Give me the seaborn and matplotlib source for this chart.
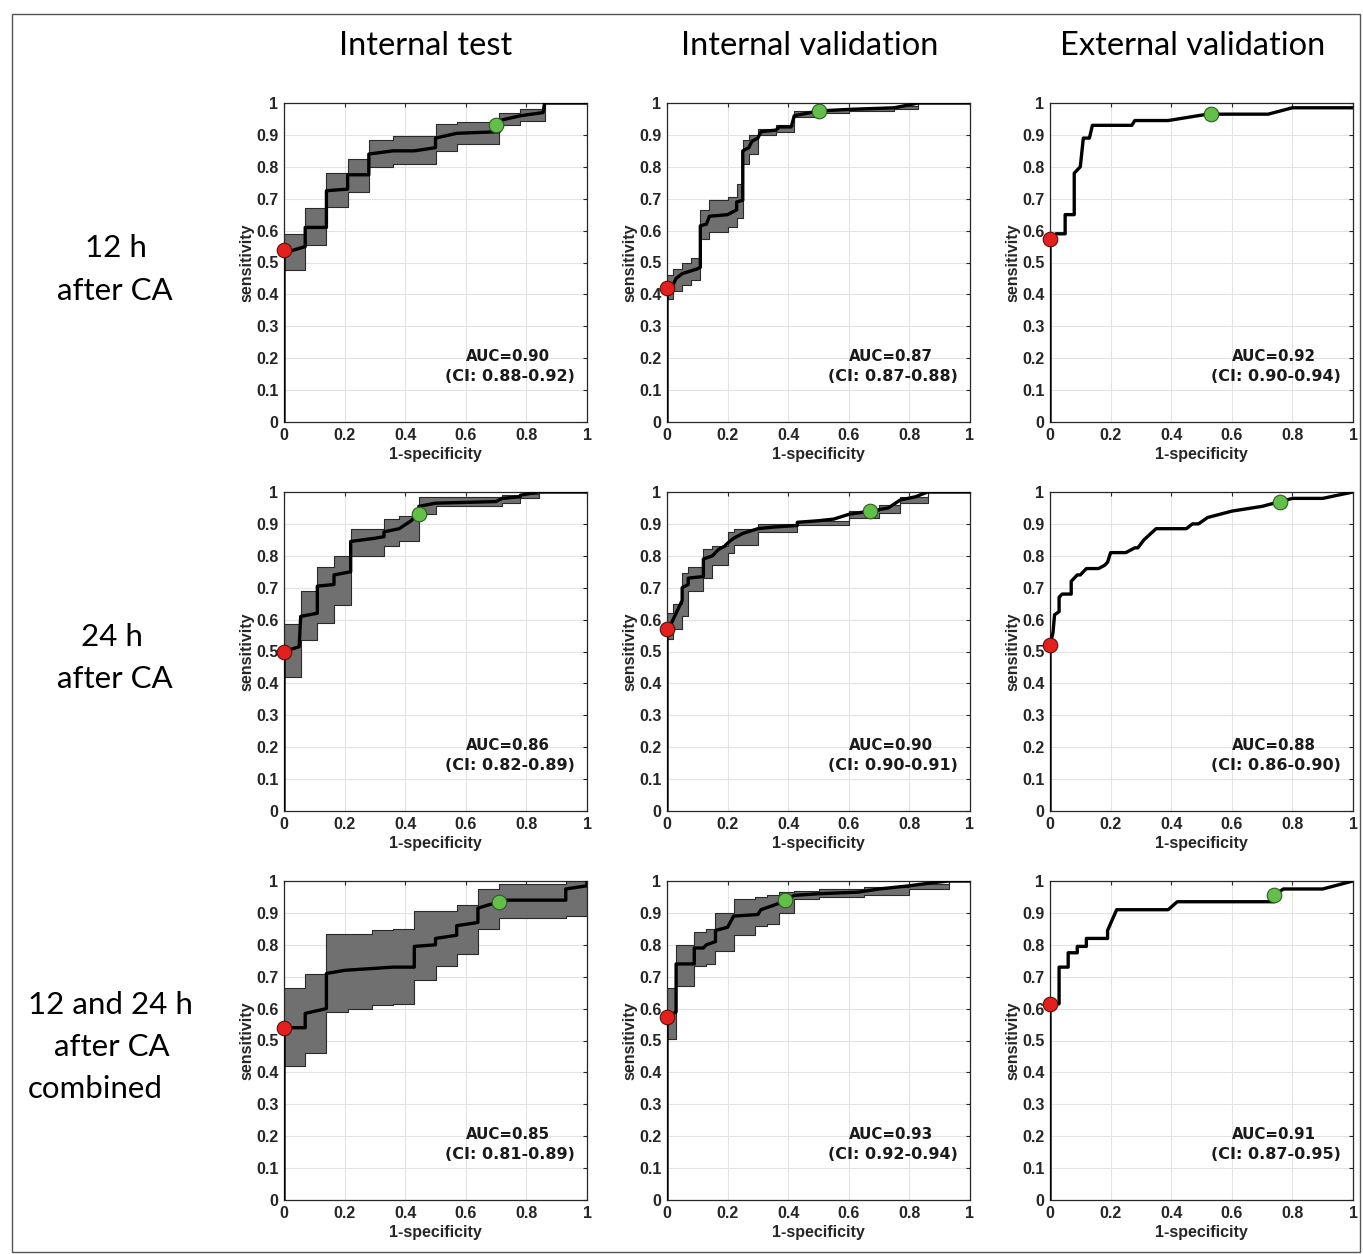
import matplotlib.pyplot as plt
import matplotlib.patches as mpatches
import pandas as pd
import seaborn as sns

sns.set_style('white')
plt.rcParams['font.family'] = ['Liberation Sans', 'DejaVu Sans']

col_titles = ['Internal test', 'Internal validation', 'External validation']
row_lines = [['12 h', 'after CA'], ['24 h', 'after CA'], ['12 and 24 h', 'after CA', 'combined']]

# ---- row 1: 12 h after CA ----
test12_x = [0, 0, 0.07, 0.07, 0.14, 0.14, 0.21, 0.21, 0.28, 0.28, 0.36, 0.43, 0.5, 0.5, 0.57, 0.71, 0.71, 0.78, 0.855, 0.86, 1]
test12_y = [0, 0.53, 0.55, 0.61, 0.61, 0.725, 0.73, 0.775, 0.775, 0.84, 0.85, 0.85, 0.86, 0.89, 0.905, 0.91, 0.945, 0.96, 0.97, 1.0, 1.0]
test12_bx = [0, 0.07, 0.14, 0.21, 0.28, 0.36, 0.5, 0.57, 0.71, 0.78, 0.86, 1]
test12_lo = [0.475, 0.555, 0.675, 0.72, 0.80, 0.81, 0.85, 0.87, 0.93, 0.945, 1.0, 1.0]
test12_hi = [0.59, 0.67, 0.78, 0.825, 0.885, 0.895, 0.935, 0.94, 0.97, 0.98, 1.0, 1.0]
test12_pts = [(0, 0.54), (0.70, 0.93)]

val12_x = [0, 0, 0.02, 0.03, 0.05, 0.10, 0.11, 0.11, 0.13, 0.14, 0.20, 0.23, 0.23, 0.25, 0.25, 0.27, 0.28, 0.30, 0.31, 0.36, 0.37, 0.41, 0.42, 0.5, 0.6, 0.75, 0.83, 1]
val12_y = [0, 0.41, 0.43, 0.45, 0.465, 0.48, 0.485, 0.615, 0.62, 0.645, 0.65, 0.665, 0.69, 0.695, 0.85, 0.86, 0.88, 0.89, 0.91, 0.915, 0.925, 0.925, 0.96, 0.975, 0.98, 0.985, 1.0, 1.0]
val12_bx = [0, 0.02, 0.05, 0.08, 0.11, 0.14, 0.20, 0.23, 0.25, 0.27, 0.30, 0.36, 0.42, 0.5, 0.6, 0.75, 0.83, 1]
val12_lo = [0.385, 0.41, 0.43, 0.445, 0.575, 0.595, 0.61, 0.64, 0.81, 0.84, 0.90, 0.91, 0.955, 0.97, 0.975, 0.98, 1.0, 1.0]
val12_hi = [0.46, 0.48, 0.50, 0.515, 0.665, 0.695, 0.705, 0.745, 0.885, 0.90, 0.92, 0.93, 0.975, 0.98, 0.985, 0.99, 1.0, 1.0]
val12_pts = [(0, 0.42), (0.50, 0.975)]

ext12_x = [0, 0, 0.02, 0.05, 0.05, 0.08, 0.08, 0.10, 0.11, 0.13, 0.14, 0.27, 0.28, 0.39, 0.52, 0.72, 0.80, 1.0]
ext12_y = [0, 0.575, 0.59, 0.59, 0.65, 0.65, 0.78, 0.80, 0.89, 0.89, 0.93, 0.93, 0.945, 0.945, 0.965, 0.965, 0.985, 0.985]
ext12_pts = [(0, 0.575), (0.53, 0.965)]

# ---- row 2: 24 h after CA ----
test24_x = [0, 0, 0.05, 0.055, 0.11, 0.11, 0.165, 0.165, 0.22, 0.22, 0.30, 0.33, 0.33, 0.38, 0.42, 0.445, 0.445, 0.5, 0.7, 0.72, 0.78, 0.78, 0.84, 1]
test24_y = [0, 0.50, 0.515, 0.61, 0.62, 0.705, 0.71, 0.74, 0.75, 0.845, 0.855, 0.86, 0.875, 0.885, 0.91, 0.935, 0.955, 0.965, 0.97, 0.98, 0.985, 0.99, 1.0, 1.0]
test24_bx = [0, 0.055, 0.11, 0.165, 0.22, 0.33, 0.38, 0.445, 0.5, 0.72, 0.78, 0.84, 1]
test24_lo = [0.42, 0.535, 0.59, 0.645, 0.80, 0.83, 0.845, 0.93, 0.955, 0.965, 0.98, 1.0, 1.0]
test24_hi = [0.585, 0.69, 0.765, 0.80, 0.885, 0.915, 0.925, 0.985, 0.985, 0.99, 0.995, 1.0, 1.0]
test24_pts = [(0, 0.50), (0.445, 0.93)]

val24_x = [0, 0, 0.01, 0.02, 0.03, 0.04, 0.05, 0.05, 0.07, 0.07, 0.12, 0.12, 0.15, 0.17, 0.19, 0.20, 0.22, 0.25, 0.30, 0.35, 0.43, 0.43, 0.5, 0.55, 0.6, 0.67, 0.73, 0.77, 0.82, 0.86, 1]
val24_y = [0, 0.55, 0.58, 0.60, 0.62, 0.64, 0.66, 0.70, 0.71, 0.73, 0.735, 0.79, 0.80, 0.82, 0.83, 0.84, 0.855, 0.87, 0.885, 0.89, 0.895, 0.905, 0.91, 0.915, 0.93, 0.94, 0.95, 0.975, 0.985, 1.0, 1.0]
val24_bx = [0, 0.02, 0.05, 0.07, 0.12, 0.15, 0.20, 0.22, 0.30, 0.43, 0.6, 0.7, 0.77, 0.86, 1]
val24_lo = [0.54, 0.57, 0.61, 0.69, 0.73, 0.77, 0.81, 0.835, 0.875, 0.895, 0.92, 0.935, 0.965, 1.0, 1.0]
val24_hi = [0.62, 0.65, 0.745, 0.765, 0.82, 0.83, 0.875, 0.885, 0.90, 0.91, 0.94, 0.96, 0.985, 1.0, 1.0]
val24_pts = [(0, 0.57), (0.67, 0.94)]

ext24_x = [0, 0, 0.01, 0.015, 0.03, 0.03, 0.04, 0.07, 0.07, 0.09, 0.10, 0.12, 0.16, 0.18, 0.19, 0.20, 0.25, 0.28, 0.29, 0.31, 0.35, 0.45, 0.47, 0.49, 0.52, 0.6, 0.7, 0.76, 0.8, 0.9, 1]
ext24_y = [0, 0.52, 0.56, 0.615, 0.625, 0.67, 0.68, 0.68, 0.72, 0.74, 0.74, 0.76, 0.76, 0.77, 0.78, 0.81, 0.81, 0.825, 0.825, 0.85, 0.885, 0.885, 0.90, 0.90, 0.92, 0.94, 0.955, 0.97, 0.98, 0.98, 1.0]
ext24_pts = [(0, 0.52), (0.76, 0.97)]

# ---- row 3: 12 and 24 h combined ----
testc_x = [0, 0, 0.07, 0.07, 0.14, 0.14, 0.20, 0.28, 0.36, 0.43, 0.43, 0.5, 0.5, 0.57, 0.57, 0.64, 0.64, 0.71, 0.72, 0.93, 0.93, 1, 1]
testc_y = [0, 0.54, 0.54, 0.585, 0.60, 0.71, 0.72, 0.725, 0.73, 0.73, 0.795, 0.80, 0.82, 0.83, 0.86, 0.87, 0.915, 0.935, 0.94, 0.94, 0.975, 0.985, 1.0]
testc_bx = [0, 0.07, 0.14, 0.21, 0.29, 0.36, 0.43, 0.5, 0.57, 0.64, 0.71, 0.93, 1]
testc_lo = [0.42, 0.46, 0.59, 0.60, 0.61, 0.615, 0.69, 0.735, 0.77, 0.85, 0.885, 0.89, 0.945]
testc_hi = [0.665, 0.71, 0.835, 0.835, 0.845, 0.85, 0.905, 0.905, 0.925, 0.975, 0.99, 1.0, 1.0]
testc_pts = [(0, 0.54), (0.71, 0.935)]

valc_x = [0, 0, 0.03, 0.03, 0.09, 0.09, 0.12, 0.13, 0.16, 0.16, 0.20, 0.22, 0.30, 0.31, 0.34, 0.37, 0.39, 0.42, 0.5, 0.63, 0.7, 0.8, 0.88, 0.93, 1]
valc_y = [0, 0.57, 0.59, 0.74, 0.74, 0.79, 0.79, 0.80, 0.81, 0.845, 0.855, 0.89, 0.895, 0.91, 0.92, 0.93, 0.94, 0.955, 0.96, 0.965, 0.975, 0.985, 0.995, 1.0, 1.0]
valc_bx = [0, 0.03, 0.09, 0.13, 0.16, 0.22, 0.29, 0.33, 0.37, 0.42, 0.5, 0.65, 0.8, 0.93, 1]
valc_lo = [0.505, 0.67, 0.735, 0.74, 0.78, 0.83, 0.86, 0.865, 0.90, 0.945, 0.95, 0.955, 0.975, 1.0, 1.0]
valc_hi = [0.665, 0.80, 0.84, 0.85, 0.90, 0.945, 0.95, 0.955, 0.965, 0.97, 0.975, 0.98, 0.99, 1.0, 1.0]
valc_pts = [(0, 0.575), (0.39, 0.94)]

extc_x = [0, 0, 0.03, 0.03, 0.06, 0.06, 0.09, 0.09, 0.12, 0.12, 0.19, 0.19, 0.22, 0.39, 0.42, 0.74, 0.74, 0.77, 0.9, 1]
extc_y = [0, 0.61, 0.615, 0.73, 0.73, 0.775, 0.775, 0.795, 0.795, 0.82, 0.82, 0.845, 0.91, 0.91, 0.935, 0.935, 0.955, 0.975, 0.975, 1.0]
extc_pts = [(0, 0.615), (0.74, 0.955)]

auc_values = [['0.90', '0.87', '0.92'], ['0.86', '0.90', '0.88'], ['0.85', '0.93', '0.91']]
ci_values = [['0.88-0.92', '0.87-0.88', '0.90-0.94'],
             ['0.82-0.89', '0.90-0.91', '0.86-0.90'],
             ['0.81-0.89', '0.92-0.94', '0.87-0.95']]

panels = [
    [(test12_x, test12_y, (test12_bx, test12_lo, test12_hi), test12_pts),
     (val12_x, val12_y, (val12_bx, val12_lo, val12_hi), val12_pts),
     (ext12_x, ext12_y, None, ext12_pts)],
    [(test24_x, test24_y, (test24_bx, test24_lo, test24_hi), test24_pts),
     (val24_x, val24_y, (val24_bx, val24_lo, val24_hi), val24_pts),
     (ext24_x, ext24_y, None, ext24_pts)],
    [(testc_x, testc_y, (testc_bx, testc_lo, testc_hi), testc_pts),
     (valc_x, valc_y, (valc_bx, valc_lo, valc_hi), valc_pts),
     (extc_x, extc_y, None, extc_pts)],
]

fig = plt.figure(figsize=(13.63, 12.54), dpi=100)
W, H = 1363, 1254

# outer frame
fig.patches.append(mpatches.Rectangle((12 / W, 2 / H), 1348 / W, 1238 / H, transform=fig.transFigure,
                                      fill=False, edgecolor='#555555', lw=1.0))

lefts = [284, 667, 1050]
bottoms = [422, 811, 1200]
aw, ah = 303, 319

for r in range(3):
    for c in range(3):
        ax = fig.add_axes([lefts[c] / W, 1 - bottoms[r] / H, aw / W, ah / H])
        cx, cy, band, pts = panels[r][c]
        if band is not None:
            bx, lo, hi = band
            ax.fill_between(bx, lo, hi, step='post', facecolor='#707070', edgecolor='#2a2a2a',
                            lw=0.8, zorder=2)
        df = pd.DataFrame({'fpr': cx, 'tpr': cy})
        sns.lineplot(data=df, x='fpr', y='tpr', sort=False, estimator=None, color='black',
                     lw=2.4, ax=ax, zorder=3)
        ax.plot(*pts[0], 'o', ms=10.5, mfc='#e3201b', mec='#5a1010', mew=0.8, zorder=5, clip_on=False)
        ax.plot(*pts[1], 'o', ms=10.5, mfc='#62c04a', mec='#2f5a22', mew=0.8, zorder=5, clip_on=False)

        ax.set_xlim(0, 1)
        ax.set_ylim(0, 1)
        ax.set_xticks([0, 0.2, 0.4, 0.6, 0.8, 1])
        ax.set_xticklabels(['0', '0.2', '0.4', '0.6', '0.8', '1'], fontweight='bold')
        ax.set_yticks([i / 10 for i in range(11)])
        ax.set_yticklabels(['0'] + ['0.%d' % i for i in range(1, 10)] + ['1'], fontweight='bold')
        ax.grid(True, color='#e3e3e3', lw=0.8)
        ax.set_axisbelow(True)
        ax.tick_params(direction='in', length=3, width=0.8, top=True, right=True, labelsize=11.5,
                       pad=4, colors='#262626')
        for s in ax.spines.values():
            s.set_color('#262626')
            s.set_linewidth(0.9)
        ax.set_xlabel('1-specificity', fontsize=11.5, fontweight='bold', labelpad=3, color='#262626')
        ax.set_ylabel('sensitivity', fontsize=11.5, fontweight='bold', labelpad=1, color='#262626')
        ax.text(0.74, 0.205, 'AUC=' + auc_values[r][c], transform=ax.transAxes, ha='center',
                va='center', fontsize=10.8, fontweight='bold', color='#1a1a1a',
                family=['DejaVu Sans'])
        ax.text(0.745, 0.142, '(CI: ' + ci_values[r][c] + ')', transform=ax.transAxes, ha='center',
                va='center', fontsize=11.5, fontweight='bold', color='#1a1a1a',
                family=['DejaVu Sans'])

# column titles
title_x = [426, 810, 1193]
for c, t in enumerate(col_titles):
    fig.text(title_x[c] / W, 1 - 46 / H, t, ha='center', va='center', fontsize=23.5,
             family=['Lato', 'DejaVu Sans'], color='black')

# row titles (one text per line so each line can sit as in the original)
line_pos = [[(116, 248, 'center'), (115, 291, 'center')],
            [(112, 637, 'center'), (115, 679, 'center')],
            [(28, 1005, 'left'), (112, 1047, 'center'), (28, 1089, 'left')]]
for r, lines in enumerate(row_lines):
    for t, (px, py, ha) in zip(lines, line_pos[r]):
        fig.text(px / W, 1 - py / H, t, ha=ha, va='center', fontsize=22.5,
                 family=['Lato', 'DejaVu Sans'], color='black')

fig.savefig('out.png', dpi=100)
